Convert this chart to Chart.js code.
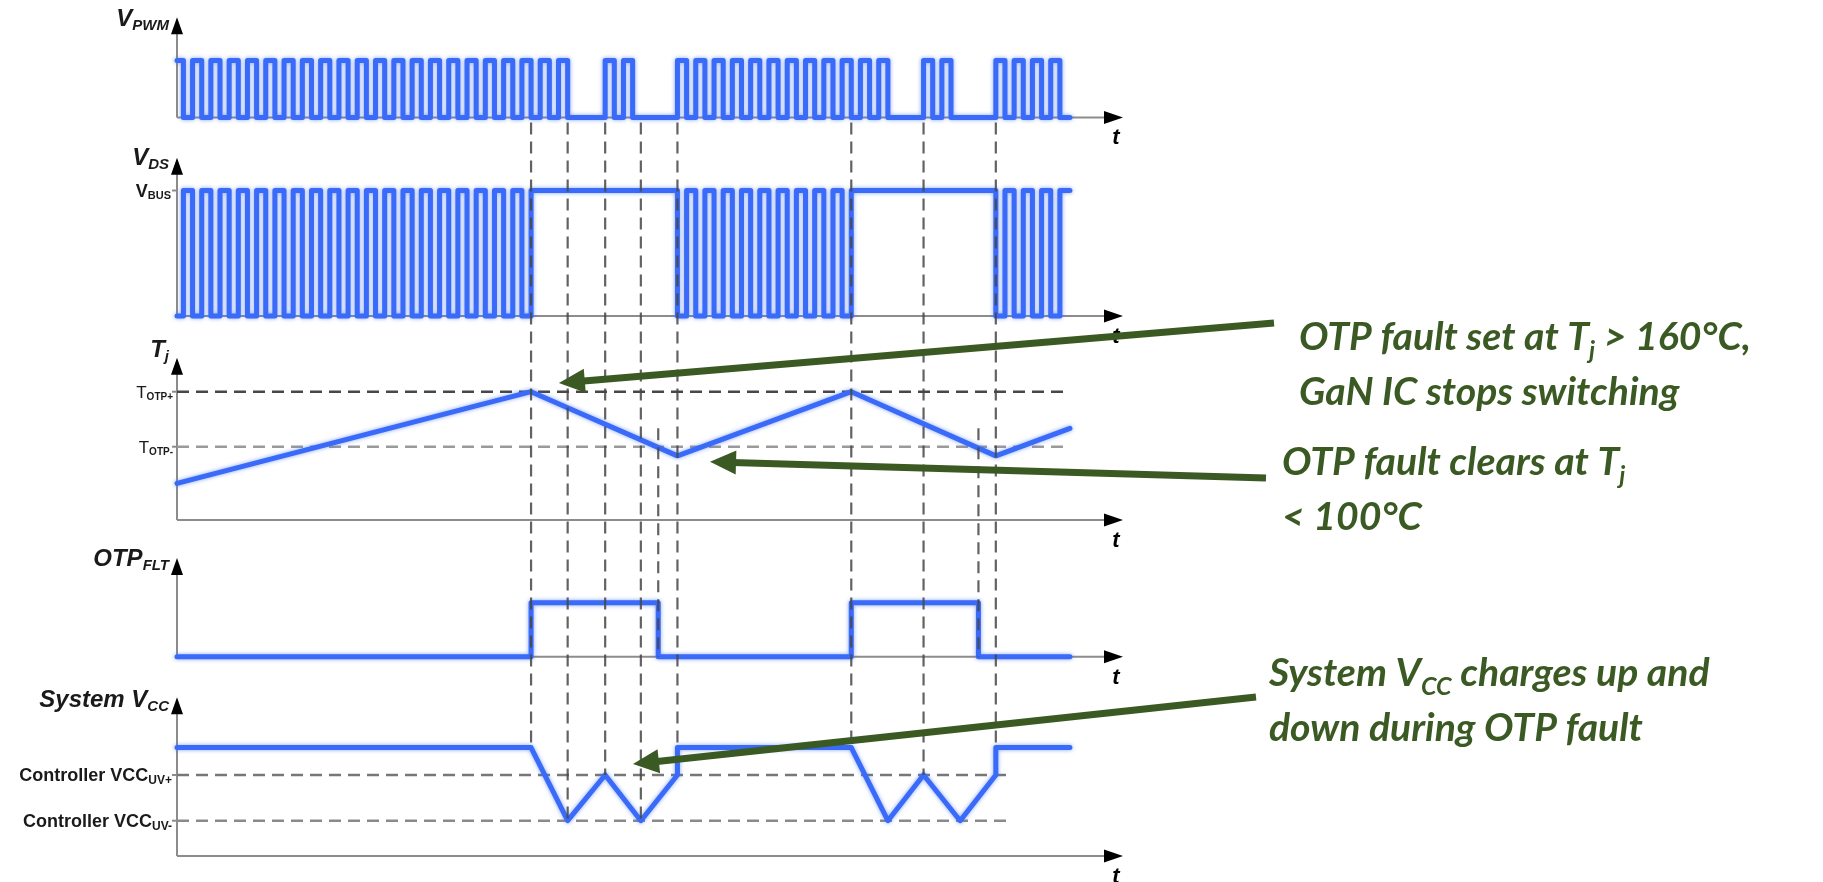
<!DOCTYPE html>
<html>
<head>
<meta charset="utf-8">
<title>OTP timing</title>
<script src="https://cdn.jsdelivr.net/npm/chart.js@4.4.1/dist/chart.umd.min.js"></script>
<style>
  html, body { margin: 0; padding: 0; background: #fff; }
  #wrap { width: 1823px; height: 882px; }
  canvas { display: block; }
</style>
</head>
<body>
<div id="wrap"><canvas id="otpChart" width="1823" height="882"></canvas></div>
<script>
// time in µs, one PWM period = 1 µs
const tEnd = 48.8;
const tAxisEnd = 51.7;

// PWM high pulses [start, end]
const pwmHigh = [
  [0, 0.35], [0.85, 1.35], [1.85, 2.35], [2.85, 3.35], [3.85, 4.35], [4.85, 5.35],
  [5.85, 6.35], [6.85, 7.35], [7.85, 8.35], [8.85, 9.35], [9.85, 10.35], [10.85, 11.35],
  [11.85, 12.35], [12.85, 13.35], [13.85, 14.35], [14.85, 15.35], [15.85, 16.35],
  [16.85, 17.35], [17.85, 18.35], [18.85, 19.35], [19.85, 20.35], [20.85, 21.35],
  [23.4, 23.9], [24.4, 24.9],
  [27.35, 27.85], [28.35, 28.85], [29.35, 29.85], [30.35, 30.85], [31.35, 31.85],
  [32.35, 32.85], [33.35, 33.85], [34.35, 34.85], [35.35, 35.85], [36.35, 36.85],
  [37.35, 37.85], [38.35, 38.85],
  [40.8, 41.3], [41.8, 42.3],
  [44.75, 45.25], [45.75, 46.25], [46.75, 47.25], [47.75, 48.25]
];

// V_DS at V_BUS [start, end]
const vdsHigh = [
  [0.35, 0.85], [1.35, 1.85], [2.35, 2.85], [3.35, 3.85], [4.35, 4.85], [5.35, 5.85],
  [6.35, 6.85], [7.35, 7.85], [8.35, 8.85], [9.35, 9.85], [10.35, 10.85], [11.35, 11.85],
  [12.35, 12.85], [13.35, 13.85], [14.35, 14.85], [15.35, 15.85], [16.35, 16.85],
  [17.35, 17.85], [18.35, 18.85],
  [19.35, 27.35],
  [27.85, 28.35], [28.85, 29.35], [29.85, 30.35], [30.85, 31.35], [31.85, 32.35],
  [32.85, 33.35], [33.85, 34.35], [34.85, 35.35], [35.85, 36.35],
  [36.85, 44.75],
  [45.25, 45.75], [46.25, 46.75], [47.25, 47.75], [48.25, 48.8]
];

const otpHigh = [[19.35, 26.3], [36.85, 43.8]];

const tjTime = [0, 19.35, 27.35, 36.85, 44.75, 48.8];
const tjValue = [60, 160, 90, 160, 90, 120];          // °C

const vccTime = [0, 19.35, 21.35, 23.4, 25.35, 27.35, 27.35, 36.85, 38.85, 40.8, 42.8, 44.75, 44.75, 48.8];
const vccValue = [11.2, 11.2, 8, 10, 8, 10, 11.2, 11.2, 8, 10, 8, 10, 11.2, 11.2];

const tjLimits = [160, 100];
const tjLimitSubs = ["OTP+", "OTP-"];
const vccLimits = [10, 8];
const vccLimitSubs = ["UV+", "UV-"];
const vBus = 1;

const eventTimes = [19.35, 21.35, 23.4, 25.35, 27.35, 36.85, 40.8, 44.75];
const otpClearTimes = [26.3, 43.8];

const panelTitles = ["V", "V", "T", "OTP", "System V"];
const panelSubs = ["PWM", "DS", "j", "FLT", "CC"];

// ---- layout (pixels) ----
const W = 1823, H = 882;
const BLUE = "#3a6af8";
const GREEN = "#3b5a23";
const panels = [
  { id: "yPWM", v1: 0, p1: 117.4, v2: 1, p2: 60.5, base: 0, tip: 1.76, title: 26 },
  { id: "yVDS", v1: 0, p1: 316, v2: 1, p2: 190.5, base: 0, tip: 1.26, title: 165 },
  { id: "yTj", v1: 100, p1: 446.7, v2: 160, p2: 391.7, base: 20, tip: 197, title: 357 },
  { id: "yOTP", v1: 0, p1: 656.7, v2: 1, p2: 602.7, base: 0, tip: 1.83, title: 566 },
  { id: "yVCC", v1: 8, p1: 820.7, v2: 10, p2: 775, base: 6.45, tip: 13.4, title: 707 }
];
const notes = [
  { axis: "yTj", tipT: 20.87, tipV: 169.5, tail: [1274, 323], x: 1299, base: [350, 405],
    lines: [[["OTP fault set at T"], ["j", 1], [" > 160°C,"]], [["GaN IC stops switching"]]] },
  { axis: "yTj", tipT: 29.13, tipV: 83.6, tail: [1266, 478], x: 1282, base: [475, 530],
    lines: [[["OTP fault clears at T"], ["j", 1]], [["< 100°C"]]] },
  { axis: "yVCC", tipT: 24.92, tipV: 10.48, tail: [1256, 697], x: 1269, base: [686, 741],
    lines: [[["System V"], ["CC", 1], [" charges up and"]], [["down during OTP fault"]]] }
];

function rangeFor(p) {
  const k = (p.p1 - p.p2) / (p.v2 - p.v1);
  const min = p.v1 - (H - p.p1) / k;
  return { min: min, max: min + H / k };
}

function stepPoints(high, end) {
  const pts = [];
  let level = 0;
  if (high[0][0] > 0) pts.push({ x: 0, y: 0 });
  high.forEach(([a, b]) => {
    if (a > 0) pts.push({ x: a, y: 0 });
    pts.push({ x: a, y: 1 });
    if (b < end) { pts.push({ x: b, y: 1 }, { x: b, y: 0 }); level = 0; }
    else { pts.push({ x: end, y: 1 }); level = 1; }
  });
  if (level === 0) pts.push({ x: end, y: 0 });
  return pts;
}

const zip = (xs, ys) => xs.map((x, i) => ({ x: x, y: ys[i] }));

function vccAt(t) {
  const hits = vccTime.map((x, i) => x === t ? vccValue[i] : null).filter(v => v !== null);
  if (hits.length) return Math.max(...hits);
  for (let i = 1; i < vccTime.length; i++) {
    if (t < vccTime[i]) {
      const f = (t - vccTime[i - 1]) / (vccTime[i] - vccTime[i - 1]);
      return vccValue[i - 1] + f * (vccValue[i] - vccValue[i - 1]);
    }
  }
  return vccValue[vccValue.length - 1];
}

const wave = (data, axis) => ({
  data: data, yAxisID: axis, borderColor: BLUE, borderWidth: 5, pointRadius: 0,
  tension: 0, fill: false, borderJoinStyle: "round", borderCapStyle: "round",
  clip: false, order: 0, glow: true
});
const level = (v, t1, axis, color) => ({
  data: [{ x: 0, y: v }, { x: t1, y: v }], yAxisID: axis, borderColor: color,
  borderWidth: 2.5, borderDash: [12, 7], pointRadius: 0, clip: false, order: 2
});

const datasets = [
  level(tjLimits[0], tEnd, "yTj", "#474747"),
  level(tjLimits[1], tEnd, "yTj", "#9a9a9a"),
  level(vccLimits[0], 45.5, "yVCC", "#777"),
  level(vccLimits[1], 45.5, "yVCC", "#8a8a8a"),
  wave(stepPoints(pwmHigh, tEnd), "yPWM"),
  wave(stepPoints(vdsHigh, tEnd), "yVDS"),
  wave(zip(tjTime, tjValue), "yTj"),
  wave(stepPoints(otpHigh, tEnd), "yOTP"),
  wave(zip(vccTime, vccValue), "yVCC")
];

const scales = { x: { type: "linear", min: 0, max: tAxisEnd, display: false } };
panels.forEach(p => {
  const r = rangeFor(p);
  scales[p.id] = { type: "linear", position: "left", display: false, min: r.min, max: r.max };
});

function runs(ctx, parts, x, y, big, small, dy, align) {
  let w = 0;
  parts.forEach(([s, sub]) => { ctx.font = sub ? small : big; w += ctx.measureText(s).width; });
  let cx = align === "right" ? x - w : x;
  parts.forEach(([s, sub]) => {
    ctx.font = sub ? small : big;
    ctx.fillText(s, cx, sub ? y + dy : y);
    cx += ctx.measureText(s).width;
  });
}

const glowPlugin = {
  id: "glow",
  beforeDatasetDraw(chart, args) {
    if (!chart.data.datasets[args.index].glow) return;
    chart.ctx.save();
    chart.ctx.shadowColor = "rgba(58,106,248,0.6)";
    chart.ctx.shadowBlur = 4;
  },
  afterDatasetDraw(chart, args) {
    if (chart.data.datasets[args.index].glow) chart.ctx.restore();
  }
};

const axesPlugin = {
  id: "timingAxes",
  beforeDatasetsDraw(chart) {
    const ctx = chart.ctx, sx = chart.scales.x;
    const x0 = sx.getPixelForValue(0), x1 = sx.getPixelForValue(tAxisEnd);
    ctx.save();
    panels.forEach(p => {
      const sy = chart.scales[p.id];
      const yb = sy.getPixelForValue(p.base), yt = sy.getPixelForValue(p.tip);
      ctx.strokeStyle = "#8c8c8c";
      ctx.lineWidth = 2;
      ctx.beginPath();
      ctx.moveTo(x0, yb); ctx.lineTo(x0, yt + 14);
      ctx.moveTo(x0, yb); ctx.lineTo(x1 - 16, yb);
      ctx.stroke();
      ctx.fillStyle = "#000";
      ctx.beginPath();
      ctx.moveTo(x0, yt); ctx.lineTo(x0 - 6, yt + 17); ctx.lineTo(x0 + 6, yt + 17);
      ctx.closePath(); ctx.fill();
      ctx.beginPath();
      ctx.moveTo(x1, yb); ctx.lineTo(x1 - 19, yb - 6.5); ctx.lineTo(x1 - 19, yb + 6.5);
      ctx.closePath(); ctx.fill();
      ctx.font = 'bold italic 22px "Liberation Sans", Arial, sans-serif';
      ctx.textAlign = "center";
      ctx.fillText("t", x1 - 7, yb + 27);
    });
    ctx.restore();
  },
  afterDatasetsDraw(chart) {
    const ctx = chart.ctx, sx = chart.scales.x;
    const x0 = sx.getPixelForValue(0);
    ctx.save();
    // event markers
    ctx.strokeStyle = "rgba(70,70,70,0.85)";
    ctx.lineWidth = 2.2;
    ctx.setLineDash([12, 7]);
    const yTop = chart.scales.yPWM.getPixelForValue(0) + 5;
    eventTimes.forEach(t => {
      const x = sx.getPixelForValue(t);
      ctx.beginPath();
      ctx.moveTo(x, yTop);
      ctx.lineTo(x, chart.scales.yVCC.getPixelForValue(vccAt(t)));
      ctx.stroke();
    });
    otpClearTimes.forEach(t => {
      const x = sx.getPixelForValue(t);
      ctx.beginPath();
      ctx.moveTo(x, chart.scales.yTj.getPixelForValue(120));
      ctx.lineTo(x, chart.scales.yOTP.getPixelForValue(0));
      ctx.stroke();
    });
    ctx.setLineDash([]);

    // panel titles
    ctx.fillStyle = "#1a1a1a";
    ctx.textAlign = "left";
    panels.forEach((p, i) => {
      runs(ctx, [[panelTitles[i]], [panelSubs[i], 1]], x0 - 8, p.title,
        'bold italic 24px "Liberation Sans", Arial, sans-serif',
        'bold italic 15px "Liberation Sans", Arial, sans-serif', 4, "right");
    });

    // level labels
    const tick = (sy, v) => {
      const y = sy.getPixelForValue(v);
      ctx.strokeStyle = "#8c8c8c"; ctx.lineWidth = 2;
      ctx.beginPath(); ctx.moveTo(x0 - 5, y); ctx.lineTo(x0, y); ctx.stroke();
      return y;
    };
    let y = tick(chart.scales.yVDS, vBus);
    runs(ctx, [["V"], ["BUS", 1]], x0 - 6, y + 6,
      'bold 18px "Liberation Sans", Arial, sans-serif', 'bold 11px "Liberation Sans", Arial, sans-serif', 2, "right");
    tjLimits.forEach((v, i) => {
      y = tick(chart.scales.yTj, v);
      runs(ctx, [["T"], [tjLimitSubs[i], 1]], x0 - 4, y + 6,
        '17px "Liberation Sans", Arial, sans-serif', 'bold 10px "Liberation Sans", Arial, sans-serif', 2, "right");
    });
    vccLimits.forEach((v, i) => {
      y = tick(chart.scales.yVCC, v);
      runs(ctx, [["Controller VCC"], [vccLimitSubs[i], 1]], x0 - 5, y + 6,
        'bold 18px "Liberation Sans", Arial, sans-serif', 'bold 12px "Liberation Sans", Arial, sans-serif', 3, "right");
    });

    // annotations
    const big = 'italic 700 39px Lato, "Open Sans", sans-serif';
    const small = 'italic 700 25px Lato, "Open Sans", sans-serif';
    ctx.font = big;
    let w1 = 0;
    notes[0].lines[0].forEach(([s, sub]) => { ctx.font = sub ? small : big; w1 += ctx.measureText(s).width; });
    const squeeze = 452 / w1;
    notes.forEach(n => {
      const tx = sx.getPixelForValue(n.tipT), ty = chart.scales[n.axis].getPixelForValue(n.tipV);
      const dx = tx - n.tail[0], dy = ty - n.tail[1], len = Math.hypot(dx, dy);
      const ux = dx / len, uy = dy / len;
      const hl = 26, hw = 12;
      ctx.strokeStyle = GREEN; ctx.fillStyle = GREEN; ctx.lineWidth = 7;
      ctx.beginPath();
      ctx.moveTo(n.tail[0], n.tail[1]);
      ctx.lineTo(tx - ux * (hl - 4), ty - uy * (hl - 4));
      ctx.stroke();
      ctx.beginPath();
      ctx.moveTo(tx, ty);
      ctx.lineTo(tx - ux * hl - uy * hw, ty - uy * hl + ux * hw);
      ctx.lineTo(tx - ux * hl + uy * hw, ty - uy * hl - ux * hw);
      ctx.closePath(); ctx.fill();
      n.lines.forEach((parts, i) => {
        ctx.save();
        ctx.translate(n.x, n.base[i]);
        ctx.scale(squeeze, 1);
        runs(ctx, parts, 0, 0, big, small, 9, "left");
        ctx.restore();
      });
    });
    ctx.restore();
  }
};

async function draw() {
  try {
    await Promise.all([
      document.fonts.load('italic 700 39px Lato'),
      document.fonts.load('bold italic 24px "Liberation Sans"'),
      document.fonts.load('bold 18px "Liberation Sans"')
    ]);
  } catch (e) { /* system fonts only */ }

  new Chart(document.getElementById("otpChart"), {
    type: "line",
    data: { datasets: datasets },
    options: {
      responsive: false,
      animation: false,
      events: [],
      layout: { padding: { left: 177, right: W - 1123, top: 0, bottom: 0 } },
      plugins: { legend: { display: false }, tooltip: { enabled: false } },
      scales: scales
    },
    plugins: [glowPlugin, axesPlugin]
  });
}
draw();
</script>
</body>
</html>
